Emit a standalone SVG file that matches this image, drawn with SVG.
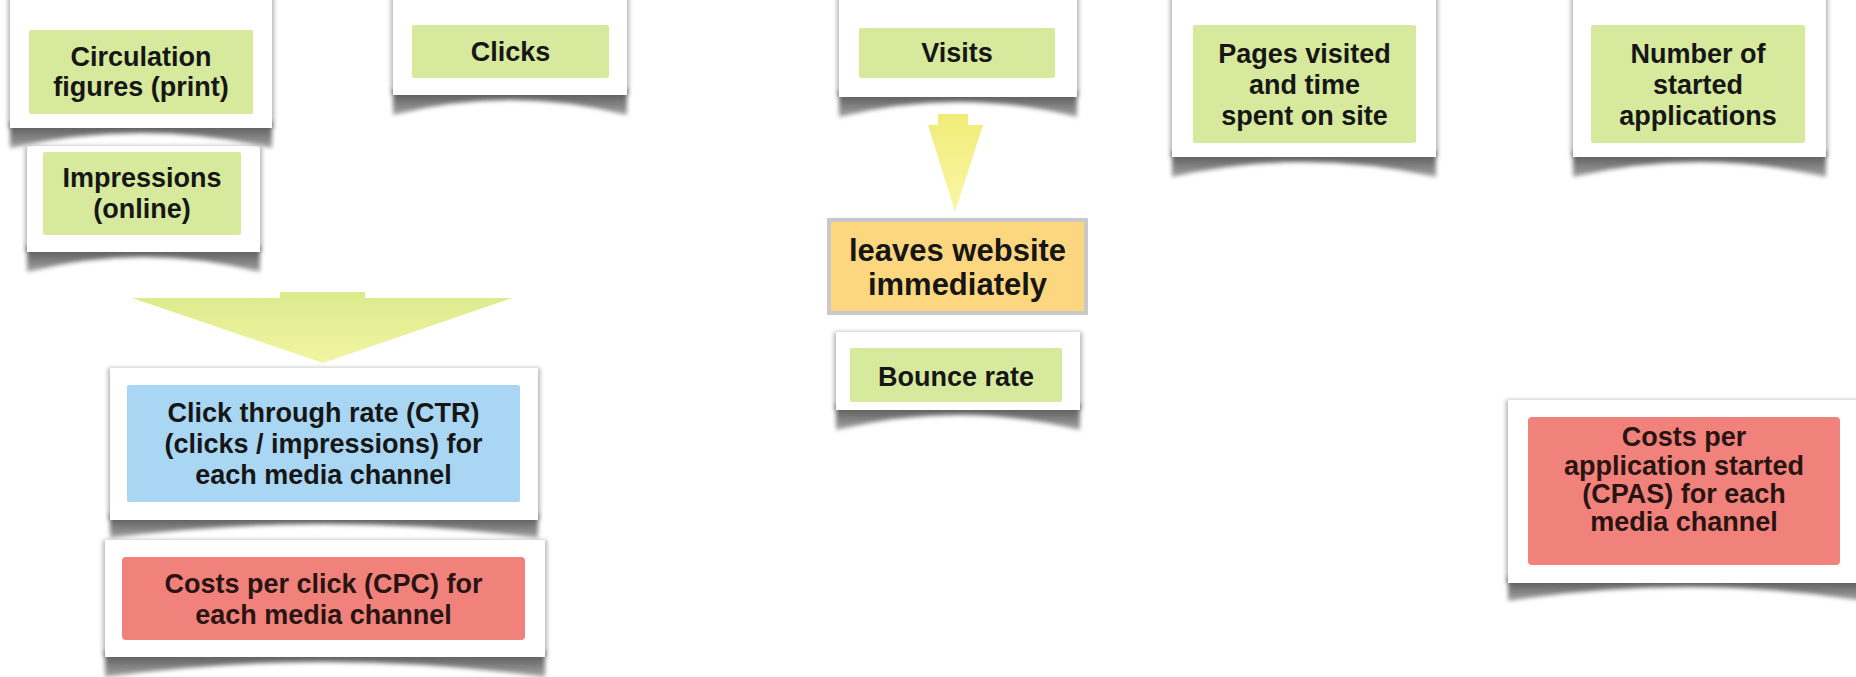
<svg xmlns="http://www.w3.org/2000/svg" width="1856" height="677" viewBox="0 0 1856 677">
  <defs>
    <filter id="soft" x="-10%" y="-30%" width="120%" height="160%">
      <feGaussianBlur stdDeviation="2"/>
    </filter>
    <linearGradient id="curlGrad" x1="0" y1="0" x2="0" y2="1">
      <stop offset="0" stop-color="#4f4f4f"/>
      <stop offset="1" stop-color="#a5a5a5"/>
    </linearGradient>
    <linearGradient id="bigArrowGrad" x1="0" y1="0" x2="0" y2="1">
      <stop offset="0" stop-color="#dbea8c"/>
      <stop offset="1" stop-color="#f3f4a2"/>
    </linearGradient>
    <linearGradient id="smallArrowGrad" x1="0" y1="0" x2="0" y2="1">
      <stop offset="0" stop-color="#efec78"/>
      <stop offset="1" stop-color="#fbf7a6"/>
    </linearGradient>
  </defs>
  <style>
    .card { fill: #ffffff; }
    .edge { fill: #b4b4b4; filter: url(#soft); }
    .curl { fill: url(#curlGrad); filter: url(#soft); }
    .green { fill: #d6e99c; }
    .blue { fill: #a9d6f2; }
    .red { fill: #f1827b; }
    .orange { fill: #fdd77f; stroke: #c9c9c9; stroke-width: 4; }
    .t { font-family: "Liberation Sans", Arial, sans-serif; font-weight: bold; font-size: 27px; fill: #161616; text-anchor: middle; }
    .tr { fill: #2a1412; }
    .big { font-size: 31px; }
  </style>

  <rect width="1856" height="677" fill="#ffffff"/>

  <!-- block arrows -->
  <g id="connectors">
    <path d="M280,292 H365 V298 H512 L323,363 L132,298 H280 Z" fill="url(#bigArrowGrad)"/>
    <path d="M938,114 H968 V125 H983 L955,212 L928,125 H938 Z" fill="url(#smallArrowGrad)"/>
  </g>

  <g id="impressions">
    <rect class="edge" x="25" y="146" width="237" height="106"/>
    <path class="curl" d="M27,246 H260 V272 Q143.5,242 27,272 Z"/>
    <rect class="card" x="27" y="146" width="233" height="106"/>
    <rect class="green" x="43" y="152" width="198" height="83" rx="2"/>
    <text class="t" x="142" y="187">Impressions</text>
    <text class="t" x="142" y="218">(online)</text>
  </g>

  <g id="circulation">
    <rect class="edge" x="8" y="-10" width="266" height="138"/>
    <path class="curl" d="M10,122 H272 V148 Q141,118 10,148 Z"/>
    <rect class="card" x="10" y="-10" width="262" height="138"/>
    <rect class="green" x="29" y="30" width="224" height="84" rx="2"/>
    <text class="t" x="141" y="66">Circulation</text>
    <text class="t" x="141" y="96">figures (print)</text>
  </g>

  <g id="clicks">
    <rect class="edge" x="391" y="-10" width="238" height="105"/>
    <path class="curl" d="M393,89 H627 V115 Q510,85 393,115 Z"/>
    <rect class="card" x="393" y="-10" width="234" height="105"/>
    <rect class="green" x="412" y="25" width="197" height="53" rx="2"/>
    <text class="t" x="510.5" y="61">Clicks</text>
  </g>

  <g id="visits">
    <rect class="edge" x="837" y="-10" width="242" height="107"/>
    <path class="curl" d="M839,91 H1077 V117 Q958,87 839,117 Z"/>
    <rect class="card" x="839" y="-10" width="238" height="107"/>
    <rect class="green" x="859" y="28" width="196" height="50" rx="2"/>
    <text class="t" x="957" y="62">Visits</text>
  </g>

  <g id="leaves">
    <rect class="orange" x="829" y="220" width="257" height="93"/>
    <text class="t big" x="957.5" y="261">leaves website</text>
    <text class="t big" x="957.5" y="295">immediately</text>
  </g>

  <g id="bounce">
    <rect class="edge" x="834" y="332" width="248" height="78"/>
    <path class="curl" d="M836,404 H1080 V430 Q958,400 836,430 Z"/>
    <rect class="card" x="836" y="332" width="244" height="78"/>
    <rect class="green" x="850" y="348" width="212" height="54" rx="2"/>
    <text class="t" x="956" y="386">Bounce rate</text>
  </g>

  <g id="pages">
    <rect class="edge" x="1170" y="-10" width="268" height="167"/>
    <path class="curl" d="M1172,151 H1436 V177 Q1304,147 1172,177 Z"/>
    <rect class="card" x="1172" y="-10" width="264" height="167"/>
    <rect class="green" x="1193" y="25" width="223" height="118" rx="2"/>
    <text class="t" x="1304.5" y="63">Pages visited</text>
    <text class="t" x="1304.5" y="94">and time</text>
    <text class="t" x="1304.5" y="125">spent on site</text>
  </g>

  <g id="applications">
    <rect class="edge" x="1571" y="-10" width="257" height="167"/>
    <path class="curl" d="M1573,151 H1826 V177 Q1699.5,147 1573,177 Z"/>
    <rect class="card" x="1573" y="-10" width="253" height="167"/>
    <rect class="green" x="1591" y="25" width="214" height="118" rx="2"/>
    <text class="t" x="1698" y="63">Number of</text>
    <text class="t" x="1698" y="94">started</text>
    <text class="t" x="1698" y="125">applications</text>
  </g>

  <g id="ctr">
    <rect class="edge" x="108" y="368" width="432" height="152"/>
    <path class="curl" d="M110,514 H538 V538 Q324,510 110,538 Z"/>
    <rect class="card" x="110" y="368" width="428" height="152"/>
    <rect class="blue" x="127" y="385" width="393" height="117" rx="2"/>
    <text class="t" x="323.5" y="422">Click through rate (CTR)</text>
    <text class="t" x="323.5" y="453">(clicks / impressions) for</text>
    <text class="t" x="323.5" y="484">each media channel</text>
  </g>

  <g id="cpc">
    <rect class="edge" x="103" y="540" width="444" height="117"/>
    <path class="curl" d="M105,651 H545 V677 Q325,647 105,677 Z"/>
    <rect class="card" x="105" y="540" width="440" height="117"/>
    <rect class="red" x="122" y="557" width="403" height="83" rx="4"/>
    <text class="t tr" x="323.5" y="593">Costs per click (CPC) for</text>
    <text class="t tr" x="323.5" y="624">each media channel</text>
  </g>

  <g id="cpas">
    <rect class="edge" x="1506" y="400" width="360" height="183"/>
    <path class="curl" d="M1508,577 H1866 V601 Q1687,573 1508,601 Z"/>
    <rect class="card" x="1508" y="400" width="358" height="183"/>
    <rect class="red" x="1528" y="417" width="312" height="148" rx="4"/>
    <text class="t tr" x="1684" y="446">Costs per</text>
    <text class="t tr" x="1684" y="475">application started</text>
    <text class="t tr" x="1684" y="503">(CPAS) for each</text>
    <text class="t tr" x="1684" y="531">media channel</text>
  </g>
</svg>
